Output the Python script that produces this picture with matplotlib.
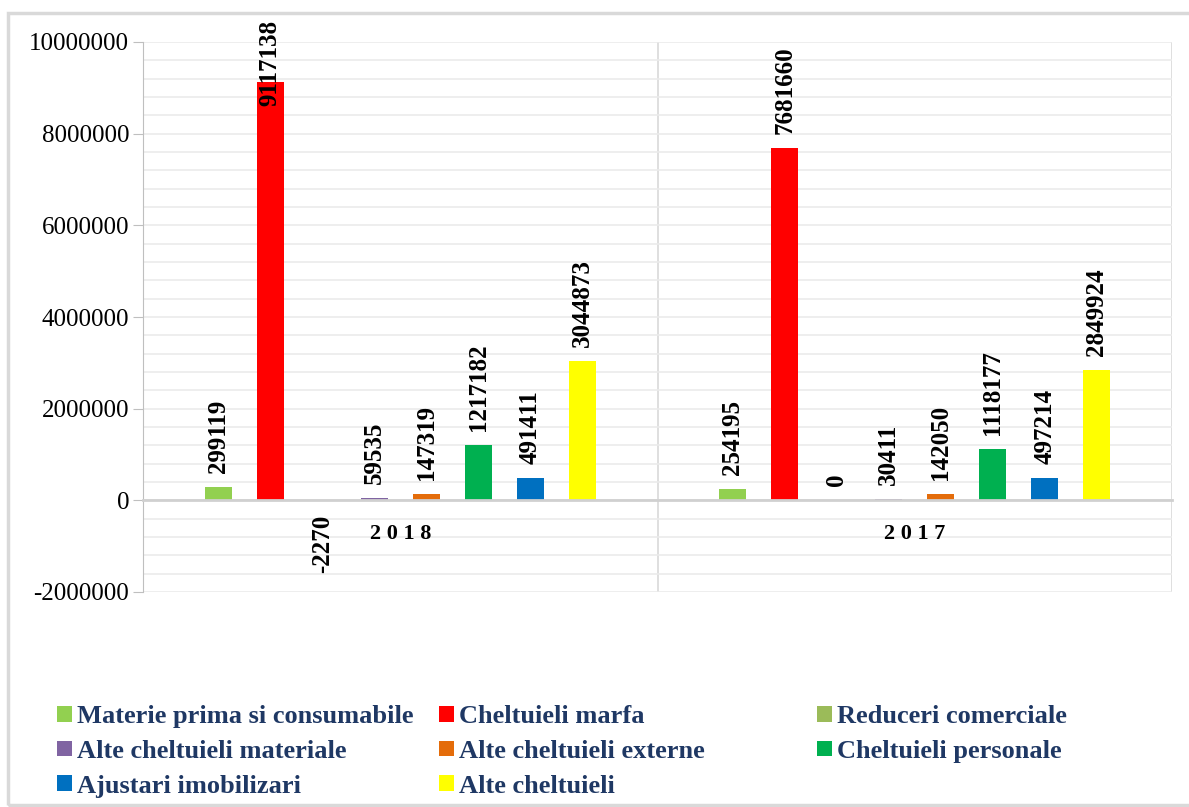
import matplotlib
matplotlib.use("Agg")
import matplotlib.pyplot as plt
from matplotlib.patches import Rectangle
from matplotlib.ticker import MultipleLocator, FuncFormatter
from matplotlib.font_manager import FontProperties

# date
ani = ["2018", "2017"]
serii = ["Materie prima si consumabile", "Cheltuieli marfa", "Reduceri comerciale",
         "Alte cheltuieli materiale", "Alte cheltuieli externe", "Cheltuieli personale",
         "Ajustari imobilizari", "Alte cheltuieli"]
culori = ["#92D050", "#FF0000", "#9BBB59", "#8064A2", "#E46C0A", "#00B050", "#0070C0", "#FFFF00"]
materie = [299119, 254195]
marfa = [9117138, 7681660]
reduceri = [-2270, 0]
alte_materiale = [59535, 30411]
alte_externe = [147319, 142050]
personal = [1217182, 1118177]
ajustari = [491411, 497214]
alte = [3044873, 2849924]
valori = [materie, marfa, reduceri, alte_materiale, alte_externe, personal, ajustari, alte]
yticks = [-2000000, 0, 2000000, 4000000, 6000000, 8000000, 10000000]

plt.rcParams['font.family'] = ['Liberation Serif', 'DejaVu Serif']

W, H = 1189, 807
fig = plt.figure(figsize=(W / 100, H / 100), dpi=100)
ax = fig.add_axes([143 / W, 1 - 592 / H, (1172 - 143) / W, (592 - 42) / H])

# chenar exterior
fig.patches.append(Rectangle((8 / W, 1 - 805 / H), 1.2, (805 - 13) / H,
                             transform=fig.transFigure, fill=False,
                             edgecolor="#D9D9D9", linewidth=2.5, zorder=0))

pas = 0.1011
lat = 0.0525
x0 = list(range(len(ani)))
bare = []
etichete = []
for i, (nume, val, c) in enumerate(zip(serii, valori, culori)):
    xs = [x + (i - 3.5) * pas for x in x0]
    b = ax.bar(xs, val, width=lat, color=c, label=nume, zorder=3)
    bare.append(b)
    for x, v in zip(xs, val):
        off = 10 if v >= 0 else -10
        t = ax.annotate(str(v), (x, v), xytext=(0, off), textcoords="offset points",
                        rotation=90, ha="center", va="bottom" if v >= 0 else "top",
                        fontsize=18, fontweight="bold", color="black", zorder=5,
                        annotation_clip=False)
        etichete.append(t)

ax.set_xlim(-0.5, 1.5)
ax.set_ylim(-2000000, 10000000)
ax.spines["bottom"].set_position(("data", 0))
ax.set_yticks(yticks)
ax.yaxis.set_major_formatter(FuncFormatter(lambda v, p: "%d" % v))
ax.yaxis.set_minor_locator(MultipleLocator(400000))
ax.grid(axis="y", which="both", color="#EBEBEB", linewidth=1.2, zorder=0)
ax.axvline(0.5, color="#D9D9D9", linewidth=1.2, zorder=1)
ax.axvline(1.5, color="#D9D9D9", linewidth=1.2, zorder=1)

ax.set_xticks(x0)
ax.set_xticklabels([" ".join(a) for a in ani])
for lb in ax.get_xticklabels():
    lb.set_fontsize(16)
    lb.set_fontweight("bold")
ax.xaxis.set_zorder(6)
ax.tick_params(axis="x", length=0, pad=17)
ax.tick_params(axis="y", which="major", length=7, color="#BFBFBF", labelsize=18, pad=3)
ax.tick_params(axis="y", which="minor", length=0)

for s in ["top", "right"]:
    ax.spines[s].set_visible(False)
ax.spines["left"].set_color("#BFBFBF")
ax.spines["bottom"].set_color("#D0D0D0")
ax.spines["bottom"].set_linewidth(2)
ax.spines["bottom"].set_zorder(4)

# etichetele care ies din chenar se coboara
fig.canvas.draw()
r = fig.canvas.get_renderer()
for t in etichete:
    bb = t.get_window_extent(r)
    lim = H - 20
    if bb.y1 > lim:
        dx, dy = t.xyann
        t.xyann = (dx, dy - (bb.y1 - lim) * 72 / 100)

# legenda pe trei coloane
fp = FontProperties(family=['Liberation Serif', 'DejaVu Serif'], weight="bold", size=19)
coloane = [[0, 3, 6], [1, 4, 7], [2, 5]]
xleg = [57, 439, 817]
for xl, col in zip(xleg, coloane):
    lg = fig.legend([bare[k] for k in col], [serii[k] for k in col],
                    loc="upper left", bbox_to_anchor=(xl / W, 1 - 705 / H),
                    frameon=False, prop=fp, handlelength=0.55, handleheight=0.55,
                    handletextpad=0.2, labelspacing=0.45, borderaxespad=0, borderpad=0)
    for tx in lg.get_texts():
        tx.set_color("#1F3864")

fig.savefig("out.png", dpi=100)
